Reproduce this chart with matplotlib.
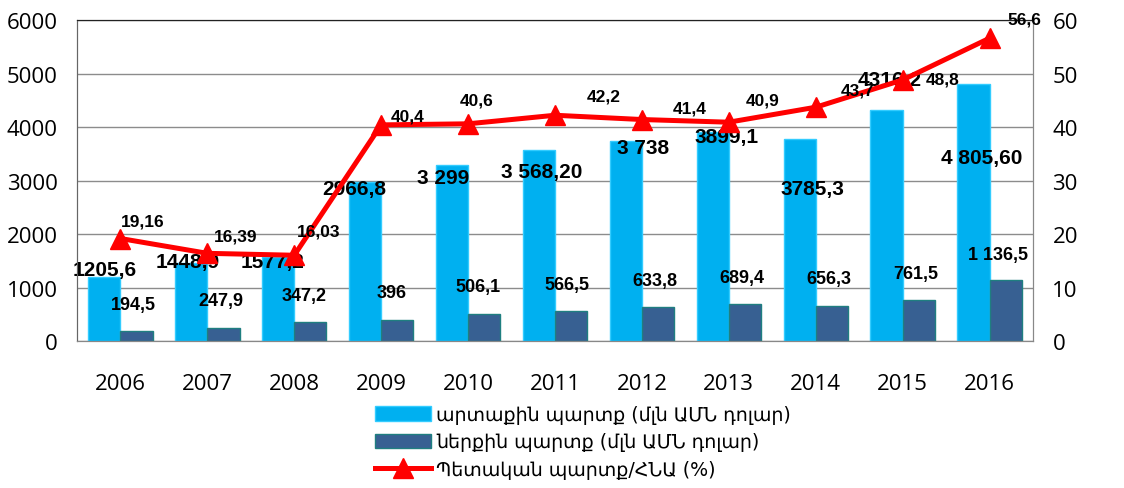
import matplotlib
matplotlib.use("Agg")
import matplotlib.pyplot as plt
import numpy as np

# data
years = ['2006', '2007', '2008', '2009', '2010', '2011', '2012', '2013', '2014', '2015', '2016']
external_debt = [1205.6, 1448.9, 1577.2, 2966.8, 3299, 3568.2, 3738, 3899.1, 3785.3, 4316.2, 4805.6]
internal_debt = [194.5, 247.9, 347.2, 396, 506.1, 566.5, 633.8, 689.4, 656.3, 761.5, 1136.5]
debt_to_gdp = [19.16, 16.39, 16.03, 40.4, 40.6, 42.2, 41.4, 40.9, 43.7, 48.8, 56.6]

ext_labels = ['1205,6', '1448,9', '1577,2', '2966,8', '3 299', '3 568,20', '3 738', '3899,1', '3785,3', '4316,2', '4 805,60']
int_labels = ['194,5', '247,9', '347,2', '396', '506,1', '566,5', '633,8', '689,4', '656,3', '761,5', '1 136,5']
gdp_labels = ['19,16', '16,39', '16,03', '40,4', '40,6', '42,2', '41,4', '40,9', '43,7', '48,8', '56,6']

legend_names = ['արտաքին պարտք (մլն ԱՄՆ դոլար)',
                'ներքին պարտք (մլն ԱՄՆ դոլար)',
                'Պետական պարտք/ՀՆԱ (%)']

# label offsets in pixels (the data labels were moved by hand in the original)
ext_off = [(0, 7), (-4, 2), (-6, -5), (-11, -6), (-9, -13), (3, -21), (17, -6), (14, -4), (13, -50), (3, 31), (8, -74)]
int_off = [(-3, 26), (-3, 27), (-6, 27), (-6, 27), (-6, 27), (-4, 26), (-3, 27), (-3, 27), (-3, 27), (-3, 27), (-8, 26)]
gdp_off = [(22, 18), (28, 17), (24, 24), (26, 9), (9, 24), (49, 19), (48, 12), (34, 22), (42, 17), (40, 1), (35, 19)]

plt.rcParams['font.family'] = ['Open Sans', 'DejaVu Sans']

fig = plt.figure(figsize=(11.24, 4.89), dpi=100)
ax = fig.add_axes([0.0685, 0.3006, 0.8505, 0.6564])
ax2 = ax.twinx()

x = np.arange(len(years))
w = 0.37
b1 = ax.bar(x - w / 2, external_debt, w, color='#00B0F0', edgecolor='#33CCFF', linewidth=1, zorder=2, label=legend_names[0])
b2 = ax.bar(x + w / 2, internal_debt, w, color='#376092', edgecolor='#1F7F80', linewidth=1, zorder=2, label=legend_names[1])
ln, = ax2.plot(x, debt_to_gdp, color='#FF0000', lw=3.6, marker='^', ms=14.5, zorder=3, label=legend_names[2])

ax.set_xlim(-0.5, len(years) - 0.5)
ax.set_ylim(0, 6000)
ax2.set_ylim(0, 60)
ax.set_yticks(range(0, 6001, 1000))
ax2.set_yticks(range(0, 61, 10))
ax.set_xticks(x)
ax.set_xticklabels(years)
ax.tick_params(axis='x', length=0, labelsize=16, pad=23)
ax.tick_params(axis='y', length=0, labelsize=16, pad=14)
ax2.tick_params(axis='y', length=0, labelsize=16, pad=14)
ax.yaxis.grid(True, color='#8c8c8c', lw=1, zorder=0)
ax.set_axisbelow(True)
for a in (ax, ax2):
    a.spines['top'].set_color('#222222')
    a.spines['left'].set_color('#666666')
    a.spines['right'].set_color('#888888')
    a.spines['bottom'].set_color('#888888')

lab_font = dict(family=['Liberation Sans', 'DejaVu Sans'], fontweight='bold', ha='center', va='center',
                color='black', zorder=5)
for i in range(len(years)):
    ax.annotate(ext_labels[i], (x[i] - w / 2, external_debt[i]), xytext=ext_off[i],
                textcoords='offset pixels', fontsize=15, **lab_font)
    ax.annotate(int_labels[i], (x[i] + w / 2, internal_debt[i]), xytext=int_off[i],
                textcoords='offset pixels', fontsize=13, **lab_font)
    ax2.annotate(gdp_labels[i], (x[i], debt_to_gdp[i]), xytext=gdp_off[i],
                 textcoords='offset pixels', fontsize=12.5, **lab_font)

fig.legend(handles=[b1, b2, ln], loc='upper left', bbox_to_anchor=(0.334, 0.170),
           frameon=False, handlelength=2.9, handleheight=0.8,
           handletextpad=0.3, labelspacing=0.45, borderaxespad=0, borderpad=0,
           prop={'family': ['DejaVu Sans'], 'size': 13.7})

fig.savefig('out.png', dpi=100)
